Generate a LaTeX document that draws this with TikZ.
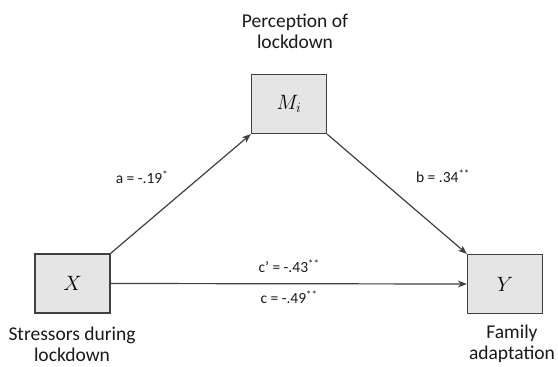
\documentclass[tikz,border=0pt]{standalone}
\usepackage{fontspec}
\setmainfont{Carlito}
\usetikzlibrary{arrows.meta}
\begin{document}
\begin{tikzpicture}[x=1pt,y=-1pt,
  var/.style={draw=black!75,fill=black!10,line width=1.3pt,minimum width=75pt,minimum height=59pt,inner sep=0pt,font=\fontsize{20}{20}\selectfont},
  lbl/.style={font=\fontsize{19.5}{21}\selectfont,align=center,text=black!90},
  coef/.style={font=\fontsize{15.5}{16}\selectfont,text=black!90},
  path/.style={draw=black!75,line width=1.2pt,-{Stealth[length=9pt,width=7pt]}}]
\useasboundingbox (0,0) rectangle (558,367);
\node[var] (X) at (72.5,283.5) {$X$};
\node[var] (Y) at (505,284) {$Y$};
\node[var] (M) at (289,104) {$M_i$};
\node[lbl] (tM) at (295,31) {Perception of\\lockdown};
\node[lbl] (tX) at (72,344) {Stressors during\\lockdown};
\node[lbl] (tY) at (512,344) {Family\\adaptation};
\draw[path] (X.north east) -- (M.south west);
\draw[path] (M.south east) -- (Y.north west);
\draw[path] (X.east) -- (Y.west);
\node[coef] (la) at (142,177) {a = -.19\textsuperscript{*}};
\node[coef] (lb) at (443,176) {b = .34\textsuperscript{**}};
\node[coef] (lc1) at (289,266) {c’ = -.43\textsuperscript{**}};
\node[coef] (lc2) at (289,297) {c = -.49\textsuperscript{**}};
\end{tikzpicture}
\end{document}
